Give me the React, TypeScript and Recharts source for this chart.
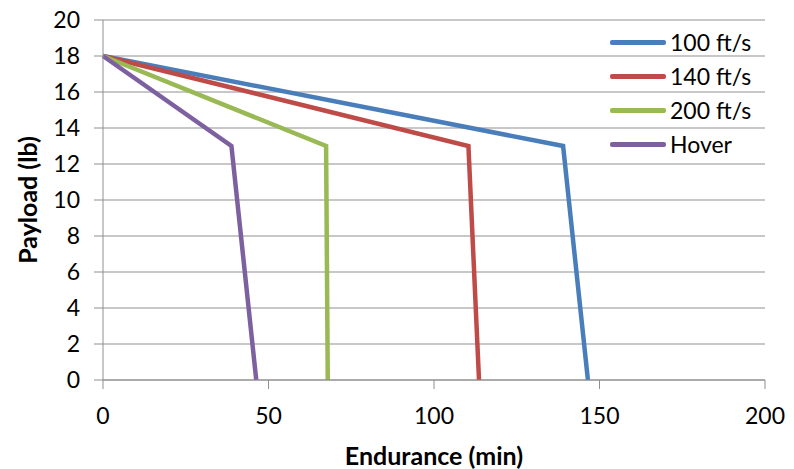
import { LineChart, Line, XAxis, YAxis, CartesianGrid, Label } from "recharts";

// endurance (min) vs payload (lb), one array per airspeed
const speed100 = [
  { x: 0, y: 18 },
  { x: 139, y: 13 },
  { x: 146.5, y: 0 },
];
const speed140 = [
  { x: 0, y: 18 },
  { x: 110.4, y: 13 },
  { x: 113.6, y: 0 },
];
const speed200 = [
  { x: 0, y: 18 },
  { x: 67.4, y: 13 },
  { x: 67.9, y: 0 },
];
const hover = [
  { x: 0, y: 18 },
  { x: 38.8, y: 13 },
  { x: 46.3, y: 0 },
];

const xTicks = [0, 50, 100, 150, 200];
const yTicks = [0, 2, 4, 6, 8, 10, 12, 14, 16, 18, 20];

const series = [
  { name: "100 ft/s", data: speed100, color: "#4A7EBB" },
  { name: "140 ft/s", data: speed140, color: "#BE4B48" },
  { name: "200 ft/s", data: speed200, color: "#98B954" },
  { name: "Hover", data: hover, color: "#7D60A0" },
];

const FONT = "Lato, 'Open Sans', sans-serif";
const GRID = "#8f8f8f";

// legend sits over the plot, so it's drawn outside the chart layout
const ChartLegend = () => (
  <div style={{ position: "absolute", left: 610, top: 25, fontFamily: FONT, fontSize: 23, color: "#000" }}>
    {series.map((s) => (
      <div key={s.name} style={{ display: "flex", alignItems: "center", height: 34 }}>
        <span
          style={{
            display: "inline-block",
            width: 56,
            height: 5,
            background: s.color,
            borderRadius: 2,
            marginRight: 4,
          }}
        />
        <span>{s.name}</span>
      </div>
    ))}
  </div>
);

export default function App() {
  return (
    <div style={{ position: "absolute", left: 0, top: 0, width: 794, height: 469, background: "#fff" }}>
      <LineChart width={794} height={469} margin={{ top: 20, right: 29, bottom: 29, left: 0 }}>
        <CartesianGrid vertical={false} stroke={GRID} strokeWidth={1} />
        <XAxis
          type="number"
          dataKey="x"
          domain={[0, 200]}
          ticks={xTicks}
          height={60}
          tickSize={9}
          tickMargin={19}
          stroke={GRID}
          tick={{ fill: "#000", fontSize: 23, fontFamily: FONT }}
        >
          <Label
            value="Endurance (min)"
            position="insideBottom"
            offset={-25}
            style={{ fill: "#000", fontSize: 25, fontWeight: 700, fontFamily: FONT }}
          />
        </XAxis>
        <YAxis
          type="number"
          domain={[0, 20]}
          ticks={yTicks}
          width={103}
          tickSize={9}
          tickMargin={14}
          stroke={GRID}
          interval={0}
          tick={{ fill: "#000", fontSize: 23, fontFamily: FONT }}
        >
          <Label
            value="Payload (lb)"
            angle={-90}
            position="insideLeft"
            offset={28}
            style={{ fill: "#000", fontSize: 25, fontWeight: 700, fontFamily: FONT, textAnchor: "middle" }}
          />
        </YAxis>
        {series.map((s) => (
          <Line
            key={s.name}
            data={s.data}
            dataKey="y"
            name={s.name}
            type="linear"
            stroke={s.color}
            strokeWidth={4.5}
            dot={false}
            activeDot={false}
            isAnimationActive={false}
          />
        ))}
      </LineChart>
      <ChartLegend />
    </div>
  );
}
